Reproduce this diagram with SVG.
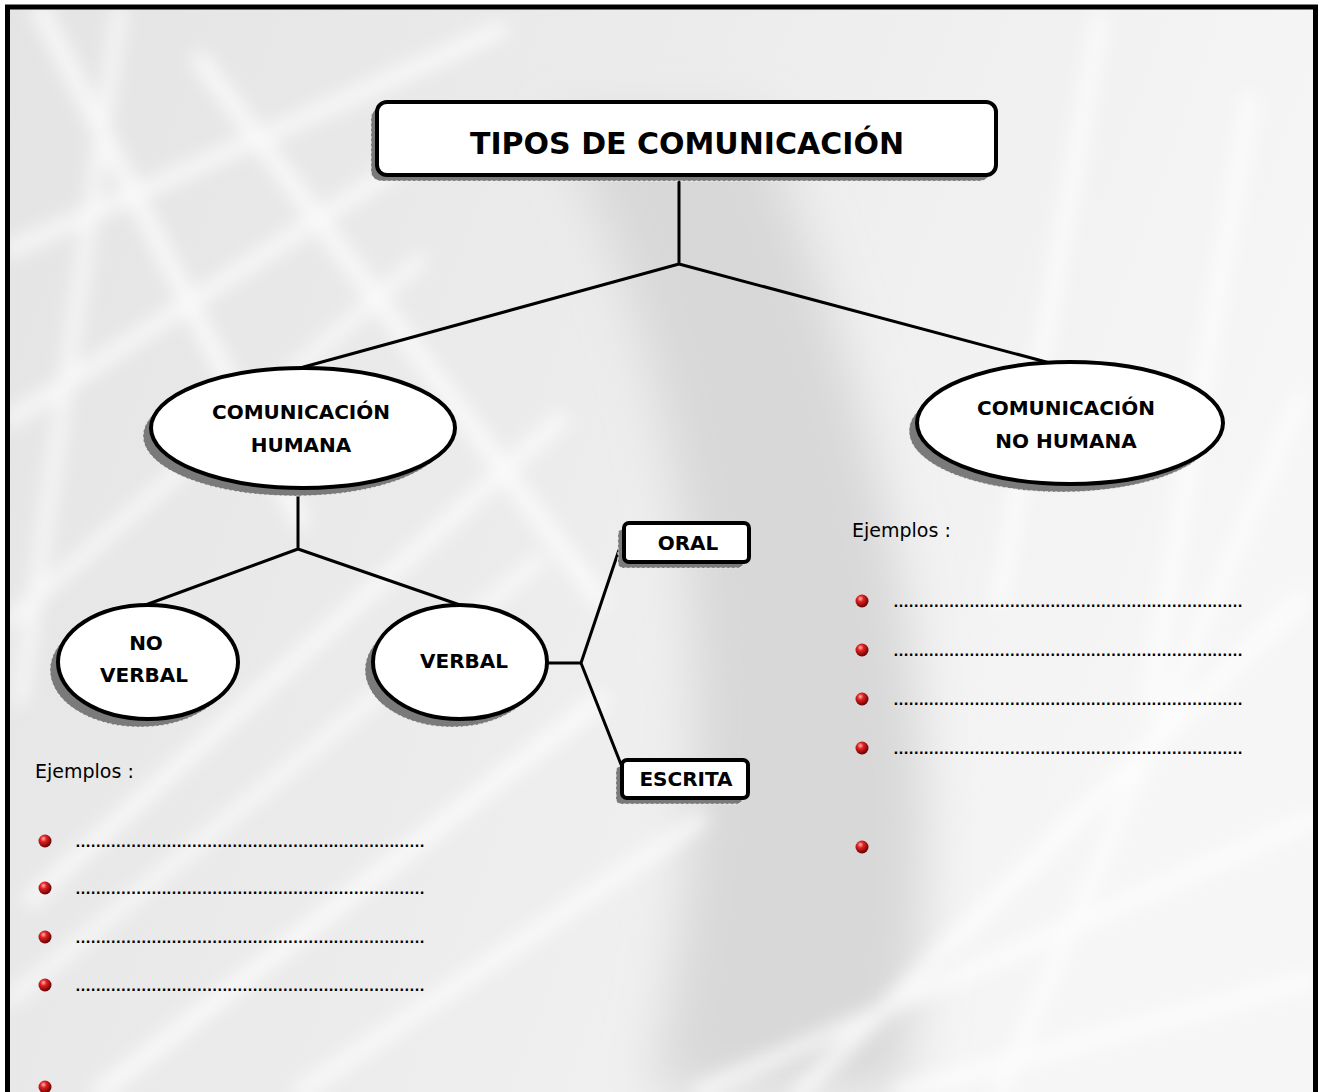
<svg xmlns="http://www.w3.org/2000/svg" width="1319" height="1092" viewBox="0 0 1319 1092">
<defs>
<linearGradient id="bg" x1="0" y1="0" x2="1" y2="0.3">
<stop offset="0" stop-color="#e4e4e4"/>
<stop offset="0.5" stop-color="#ececec"/>
<stop offset="1" stop-color="#f6f6f6"/>
</linearGradient>
<radialGradient id="ball" cx="0.38" cy="0.32" r="0.7">
<stop offset="0" stop-color="#ffb0b0"/>
<stop offset="0.35" stop-color="#e02020"/>
<stop offset="1" stop-color="#600000"/>
</radialGradient>
<filter id="blur" x="-10%" y="-10%" width="120%" height="120%"><feGaussianBlur stdDeviation="9"/></filter>
<filter id="blur2" x="-20%" y="-20%" width="140%" height="140%"><feGaussianBlur stdDeviation="25"/></filter>
</defs>
<style>
.box{fill:#fff;stroke:#000;stroke-width:4}
.sh{fill:#7a7a7a;stroke:#eee;stroke-width:1;stroke-dasharray:3 2}
.ln{fill:none;stroke:#000;stroke-width:3}
.t{font-family:"Comic Sans MS","DejaVu Sans",sans-serif;font-weight:bold;fill:#000;text-anchor:middle}
.e{font-family:"Comic Sans MS","DejaVu Sans",sans-serif;font-size:19px;fill:#000}
.d{font-family:"Liberation Sans",sans-serif;font-size:16px;font-weight:bold;fill:#000}
.streak{fill:none;stroke:#fff;stroke-linecap:round}
</style>
<rect x="0" y="0" width="1319" height="1092" fill="#fff"/>
<rect x="8" y="7" width="1307" height="1085" fill="url(#bg)"/>
<g filter="url(#blur2)">
<path d="M560 120 C640 300 760 600 650 1092 L900 1092 C980 700 850 350 760 120 Z" fill="#d8d8d8"/>
</g>
<g filter="url(#blur)" opacity="0.8">
<path class="streak" stroke-width="16" d="M40 10 L300 520"/>
<path class="streak" stroke-width="14" d="M10 250 L500 30"/>
<path class="streak" stroke-width="14" d="M10 420 L470 120"/>
<path class="streak" stroke-width="12" d="M120 10 L20 700"/>
<path class="streak" stroke-width="16" d="M200 60 L600 600"/>
<path class="streak" stroke-width="12" d="M10 620 L420 260"/>
<path class="streak" stroke-width="14" d="M30 900 L560 420"/>
<path class="streak" stroke-width="12" d="M10 1000 L540 560"/>
<path class="streak" stroke-width="16" d="M100 1092 L600 700"/>
<path class="streak" stroke-width="14" d="M300 1092 L700 820"/>
<path class="streak" stroke-width="14" d="M1100 20 L1000 600"/>
<path class="streak" stroke-width="14" d="M1250 100 L1150 700"/>
<path class="streak" stroke-width="16" d="M800 1092 L1300 600"/>
<path class="streak" stroke-width="14" d="M700 1092 L1310 820"/>
<path class="streak" stroke-width="14" d="M900 1092 L1310 980"/>
<path class="streak" stroke-width="12" d="M1000 1092 L1300 400"/>
</g>
<rect x="7.5" y="7" width="1308" height="1100" fill="none" stroke="#000" stroke-width="5"/>

<g id="connectors">
<path class="ln" d="M679 175 L679 264 M679 264 L300 368 M679 264 L1050 363"/>
<path class="ln" d="M298 488 L298 549 M298 549 L140 607 M298 549 L460 605"/>
<path class="ln" d="M547 663 L581 663 M581 663 L624 535 M581 663 L624 772"/>
</g>

<g id="title">
<rect class="sh" x="371" y="108" width="619" height="73" rx="10"/>
<rect class="box" x="377" y="102" width="619" height="73" rx="10"/>
<text class="t" x="687" y="154" font-size="30">TIPOS DE COMUNICACIÓN</text>
</g>
<g id="humana">
<ellipse class="sh" cx="295" cy="436" rx="152" ry="60"/>
<ellipse class="box" cx="303" cy="428" rx="152" ry="60"/>
<text class="t" x="301" y="419" font-size="20">COMUNICACIÓN</text>
<text class="t" x="301" y="452" font-size="20">HUMANA</text>
</g>
<g id="nohumana">
<ellipse class="sh" cx="1062" cy="431" rx="153" ry="61"/>
<ellipse class="box" cx="1070" cy="423" rx="153" ry="61"/>
<text class="t" x="1066" y="415" font-size="20">COMUNICACIÓN</text>
<text class="t" x="1066" y="448" font-size="20">NO HUMANA</text>
</g>
<g id="noverbal">
<ellipse class="sh" cx="140" cy="670" rx="90" ry="57"/>
<ellipse class="box" cx="148" cy="662" rx="90" ry="57"/>
<text class="t" x="146" y="650" font-size="20">NO</text>
<text class="t" x="144" y="682" font-size="20">VERBAL</text>
</g>
<g id="verbal">
<ellipse class="sh" cx="452" cy="670" rx="87" ry="57"/>
<ellipse class="box" cx="460" cy="662" rx="87" ry="57"/>
<text class="t" x="464" y="668" font-size="20">VERBAL</text>
</g>
<g id="oral">
<rect class="sh" x="618" y="529" width="125" height="39" rx="5"/>
<rect class="box" x="624" y="523" width="125" height="39" rx="5"/>
<text class="t" x="688" y="550" font-size="20">ORAL</text>
</g>
<g id="escrita">
<rect class="sh" x="616" y="766" width="126" height="38" rx="5"/>
<rect class="box" x="622" y="760" width="126" height="38" rx="5"/>
<text class="t" x="686" y="786" font-size="20">ESCRITA</text>
</g>

<g id="ejemplos-right">
<text class="e" x="852" y="537">Ejemplos :</text>
<circle cx="862" cy="601" r="6.5" fill="url(#ball)"/>
<circle cx="862" cy="650" r="6.5" fill="url(#ball)"/>
<circle cx="862" cy="699" r="6.5" fill="url(#ball)"/>
<circle cx="862" cy="748" r="6.5" fill="url(#ball)"/>
<circle cx="862" cy="847" r="6.5" fill="url(#ball)"/>
<text class="d" x="893" y="607" textLength="350" lengthAdjust="spacing">……………………………………………………………</text>
<text class="d" x="893" y="656" textLength="350" lengthAdjust="spacing">……………………………………………………………</text>
<text class="d" x="893" y="705" textLength="350" lengthAdjust="spacing">……………………………………………………………</text>
<text class="d" x="893" y="754" textLength="350" lengthAdjust="spacing">……………………………………………………………</text>
</g>
<g id="ejemplos-left">
<text class="e" x="35" y="778">Ejemplos :</text>
<circle cx="45" cy="841" r="6.5" fill="url(#ball)"/>
<circle cx="45" cy="888" r="6.5" fill="url(#ball)"/>
<circle cx="45" cy="937" r="6.5" fill="url(#ball)"/>
<circle cx="45" cy="985" r="6.5" fill="url(#ball)"/>
<circle cx="45" cy="1087" r="6.5" fill="url(#ball)"/>
<text class="d" x="75" y="847" textLength="350" lengthAdjust="spacing">……………………………………………………………</text>
<text class="d" x="75" y="894" textLength="350" lengthAdjust="spacing">……………………………………………………………</text>
<text class="d" x="75" y="943" textLength="350" lengthAdjust="spacing">……………………………………………………………</text>
<text class="d" x="75" y="991" textLength="350" lengthAdjust="spacing">……………………………………………………………</text>
</g>
</svg>
